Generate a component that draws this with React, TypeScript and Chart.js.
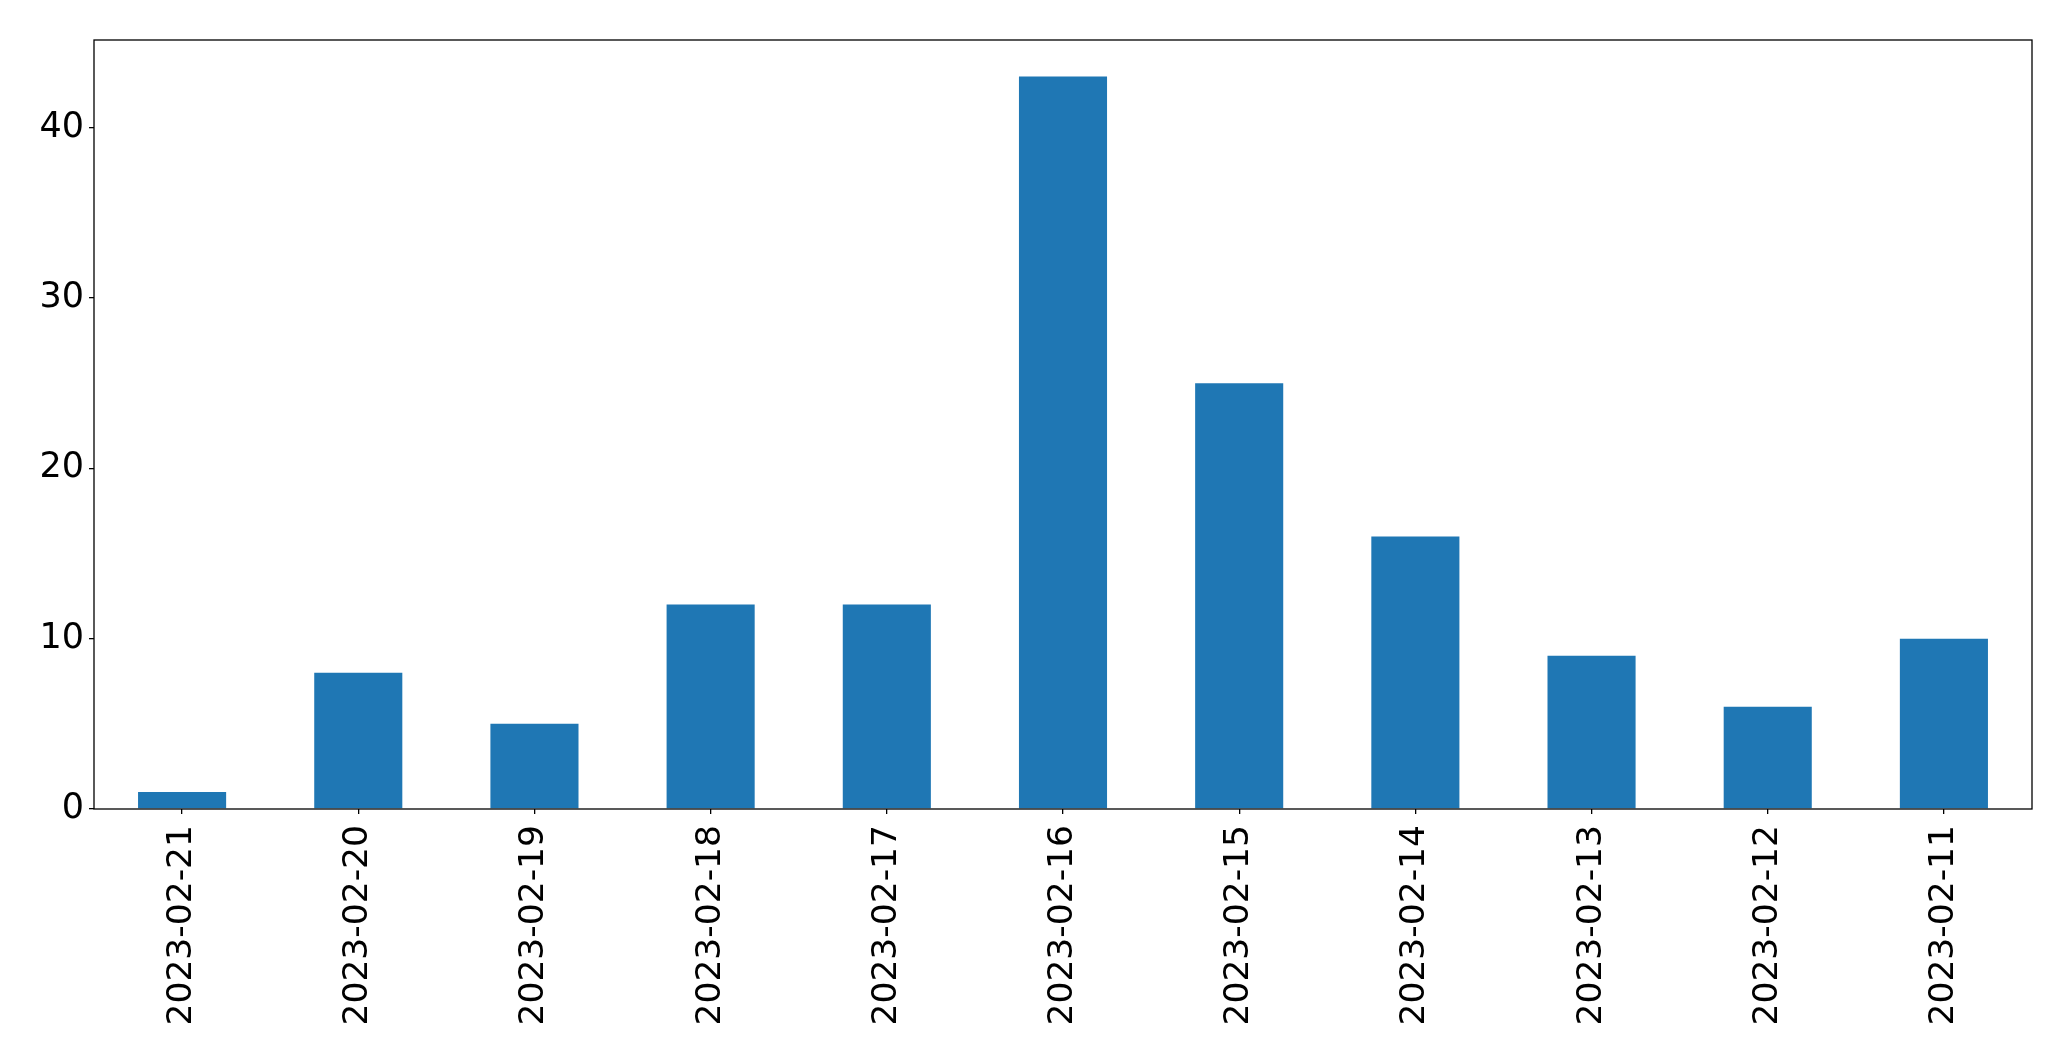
import React, { useEffect, useRef } from "react";
import { Chart, registerables } from "chart.js";

Chart.register(...registerables);

const categories = [
  "2023-02-21",
  "2023-02-20",
  "2023-02-19",
  "2023-02-18",
  "2023-02-17",
  "2023-02-16",
  "2023-02-15",
  "2023-02-14",
  "2023-02-13",
  "2023-02-12",
  "2023-02-11",
];
const counts = [1, 8, 5, 12, 12, 43, 25, 16, 9, 6, 10];
const yTicks = [0, 10, 20, 30, 40];
const yMax = 45.15;

const W = 2071;
const H = 1061;

const framePlugin = {
  id: "frame",
  afterDraw(chart: any) {
    const { ctx, chartArea } = chart;
    ctx.save();
    ctx.strokeStyle = "#000";
    ctx.lineWidth = 1.3;
    ctx.strokeRect(chartArea.left, chartArea.top, chartArea.right - chartArea.left, chartArea.bottom - chartArea.top);
    ctx.restore();
  },
};

export default function App() {
  const ref = useRef<HTMLCanvasElement | null>(null);
  useEffect(() => {
    if (!ref.current) return;
    const font = { family: "DejaVu Sans", size: 34.5 };
    const chart = new Chart(ref.current, {
      type: "bar",
      data: {
        labels: categories,
        datasets: [
          {
            data: counts,
            backgroundColor: "#1f77b4",
            borderWidth: 0,
            categoryPercentage: 1,
            barPercentage: 0.5,
          },
        ],
      },
      options: {
        animation: false,
        responsive: false,
        maintainAspectRatio: false,
        layout: { padding: { top: 40, right: 39, left: 0, bottom: 0 } },
        plugins: { legend: { display: false }, tooltip: { enabled: false } },
        scales: {
          x: {
            afterFit(scale: any) {
              scale.height = H - 809;
            },
            grid: {
              display: true,
              offset: false,
              drawOnChartArea: false,
              drawTicks: true,
              tickLength: 5,
              color: "#000",
              lineWidth: 1.3,
            },
            border: { display: false },
            ticks: {
              color: "#000",
              font,
              minRotation: 90,
              maxRotation: 90,
              autoSkip: false,
              padding: 11,
            },
          },
          y: {
            min: 0,
            max: yMax,
            afterFit(scale: any) {
              scale.width = 94;
            },
            afterBuildTicks(scale: any) {
              scale.ticks = yTicks.map((v) => ({ value: v }));
            },
            grid: { display: true, drawOnChartArea: false, drawTicks: true, tickLength: 5, color: "#000", lineWidth: 1.3 },
            border: { display: false },
            ticks: { color: "#000", font: { family: "DejaVu Sans", size: 35 }, padding: 5 },
          },
        },
      },
      plugins: [framePlugin],
    });
    return () => chart.destroy();
  }, []);
  return (
    <div style={{ position: "fixed", left: 0, top: 0, width: W, height: H, background: "#fff" }}>
      <canvas ref={ref} width={W} height={H} style={{ width: W, height: H, display: "block" }} />
    </div>
  );
}
